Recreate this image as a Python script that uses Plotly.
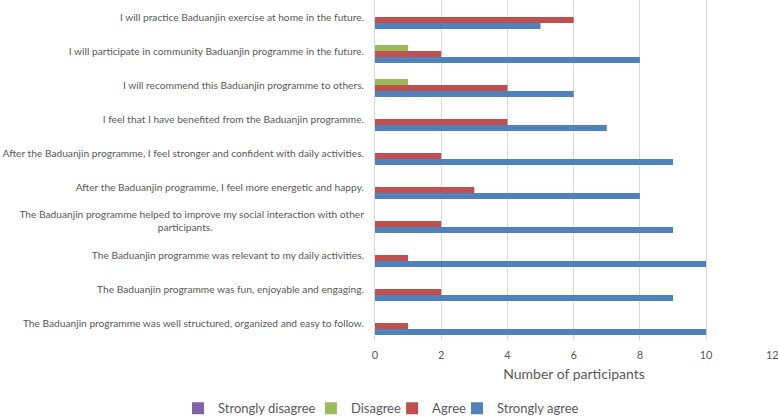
import plotly.graph_objects as go

NB = "\u00a0"
categories = [
    "The Baduanjin programme was well structured, organized and easy to follow.",
    "The Baduanjin programme was fun, enjoyable and engaging.",
    "The Baduanjin programme was relevant to my daily activities.",
    "The Baduanjin programme helped to improve my social interaction with other<br>participants." + NB * 58,
    "After the Baduanjin programme, I feel more energetic and happy.",
    "After the Baduanjin programme, I feel stronger and confident with daily activities.",
    "I feel that I have benefited from the Baduanjin programme.",
    "I will recommend this Baduanjin programme to others.",
    "I will participate in community Baduanjin programme in the future.",
    "I will practice Baduanjin exercise at home in the future.",
]
strongly_agree = [10, 9, 10, 9, 8, 9, 7, 6, 8, 5]
agree = [1, 2, 1, 2, 3, 2, 4, 4, 2, 6]
disagree = [0, 0, 0, 0, 0, 0, 0, 1, 1, 0]
strongly_disagree = [0, 0, 0, 0, 0, 0, 0, 0, 0, 0]
x_ticks = [0, 2, 4, 6, 8, 10, 12]

series = [
    ("Strongly agree", strongly_agree, "#4F81BD", "legend4", 0.206),
    ("Agree", agree, "#C0504D", "legend3", 0.043),
    ("Disagree", disagree, "#9BBB59", "legend2", -0.161),
    ("Strongly disagree", strongly_disagree, "#8064A2", "legend", -0.495),
]

fig = go.Figure()
for name, vals, color, lg, _ in series:
    fig.add_trace(go.Bar(
        y=categories, x=vals, name=name, orientation="h", legend=lg,
        marker=dict(color=color, line=dict(width=0)),
    ))

font_family = "Lato, Noto Sans, sans-serif"
legend_common = dict(
    orientation="h", xanchor="left", y=-0.157, yanchor="top",
    font=dict(size=13, color="#595959"), itemwidth=30, bgcolor="rgba(0,0,0,0)",
)
legends = {}
for name, vals, color, lg, lx in series:
    legends[lg] = dict(legend_common, x=lx)

fig.update_layout(
    width=778, height=417,
    margin=dict(l=375, r=5, t=0, b=77, autoexpand=False),
    barmode="group", bargap=0.294, bargroupgap=0,
    plot_bgcolor="white", paper_bgcolor="white",
    font=dict(family=font_family, color="#595959", size=11),
    xaxis=dict(
        range=[0, 12.02], tickvals=x_ticks, showgrid=True, gridcolor="#D9D9D9",
        gridwidth=1, zeroline=False, showline=False, ticks="", automargin=False,
        ticklabelstandoff=7, ticklabeloverflow="allow",
        tickfont=dict(size=11, color="#595959"),
        title=dict(text="Number of participants", font=dict(size=14, color="#595959"), standoff=9),
    ),
    yaxis=dict(
        showgrid=False, zeroline=False, showline=True, linecolor="#D9D9D9",
        ticks="", ticklabelstandoff=8, automargin=False,
        tickfont=dict(size=10.2, color="#595959"),
    ),
    showlegend=True,
    **legends,
)
fig.write_html("out.html", post_script="document.body.style.margin='0';",
               config={"displayModeBar": False})
